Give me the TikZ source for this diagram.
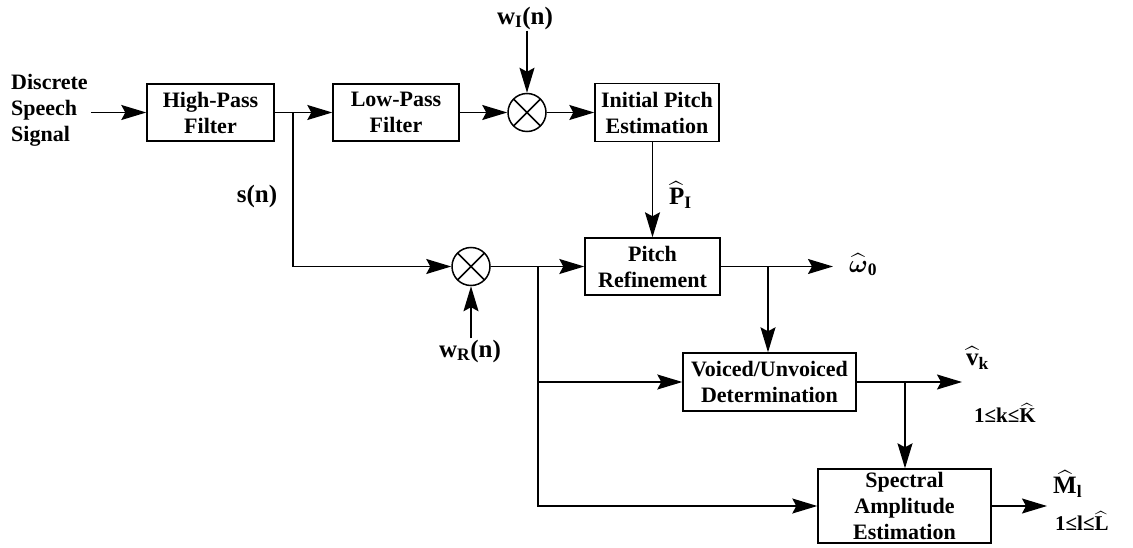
\documentclass[tikz,border=0pt]{standalone}
\usepackage{amsmath}
\usepackage{fontspec}
\setmainfont{Liberation Serif}
\usetikzlibrary{arrows.meta,positioning}

\begin{document}
\begin{tikzpicture}[x=1pt,y=-1pt,
  font=\fontsize{22}{26}\selectfont\bfseries,
  blk/.style={draw, line width=1.4pt, align=center, inner sep=2pt},
  mult/.style={circle, draw, line width=1.5pt, minimum size=38pt, inner sep=0pt,
    path picture={\draw[line width=1.5pt]
      (path picture bounding box.south west) -- (path picture bounding box.north east)
      (path picture bounding box.north west) -- (path picture bounding box.south east);}},
  sig/.style={line width=1.4pt, -{Stealth[length=25pt,width=15pt,inset=4pt]}},
  lbl/.style={font=\fontsize{25}{28}\selectfont\bfseries, inner sep=1pt},
  rng/.style={font=\fontsize{21}{24}\selectfont\bfseries, inner sep=1pt}]
\useasboundingbox (0,0) rectangle (1133,548);

% blocks
\node[align=left, anchor=west, inner sep=3pt] (src) at (8,110) {Discrete\\Speech\\Signal};
\node[blk, minimum width=127pt, minimum height=57pt] (hpf) at (210.5,112.5) {High-Pass\\Filter};
\node[blk, minimum width=126pt, minimum height=57pt] (lpf) at (396,112.5) {Low-Pass\\Filter};
\node[mult] (mi) at (527,112.5) {};
\node[blk, minimum width=124pt, minimum height=58pt] (ipe) at (657,112.5) {Initial Pitch\\Estimation};
\node[mult] (mr) at (471,266.5) {};
\node[blk, minimum width=135pt, minimum height=57pt] (pr) at (652.5,266.5) {Pitch\\Refinement};
\node[blk, minimum width=173pt, minimum height=58pt] (vuv) at (769.5,382) {Voiced/Unvoiced\\Determination};
\node[blk, minimum width=173pt, minimum height=74pt] (sae) at (904.5,506) {Spectral\\Amplitude\\Estimation};

% labels
\node[lbl] (wi) at (525,18) {w\textsubscript{I}(n)};
\node[lbl] (wr) at (470,351) {w\textsubscript{R}(n)};
\node[lbl] (sn) at (257,196) {s(n)};
\node[lbl, anchor=west] (pi) at (668,195) {$\widehat{\text{P}}_{\text{I}}$};
\node[lbl, anchor=west] (om) at (848,265) {$\widehat{\boldsymbol\omega}_{\text{0}}$};
\node[lbl, anchor=west] (vk) at (965,358) {$\widehat{\text{v}}_{\text{k}}$};
\node[rng, anchor=west] (kr) at (973,413) {1≤k≤$\widehat{\text{K}}$};
\node[lbl, anchor=west] (ml) at (1052,484) {$\widehat{\text{M}}_{\text{l}}$};
\node[rng, anchor=west] (lr) at (1054,521) {1≤l≤$\widehat{\text{L}}$};

\coordinate (j1) at (293,112.5);
\coordinate (j2) at (768,266.5);
\coordinate (j3) at (905,382);
\coordinate (j4) at (538,266.5);
\coordinate (omend) at (833,266.5);
\coordinate (vkend) at (962,382);
\coordinate (mlend) at (1047,506);

% connectors
\draw[sig] (src.east |- hpf) -- (hpf);
\draw[sig] (hpf) -- (lpf);
\draw[sig] (j1) |- (mr);
\draw[sig] (lpf) -- (mi);
\draw[sig] (mi |- wi.south) -- (mi);
\draw[sig] (mi) -- (ipe);
\draw[sig] (pr.north |- ipe.south) -- (pr.north);
\draw[sig] (mr |- wr.north) -- (mr);
\draw[sig] (mr) -- (pr);
\draw[sig] (pr) -- (omend);
\draw[sig] (j2) -- (j2 |- vuv.north);
\draw[sig] (j4) |- (vuv);
\draw[sig] (j4) |- (sae);
\draw[sig] (vuv) -- (vkend);
\draw[sig] (j3) -- (j3 |- sae.north);
\draw[sig] (sae) -- (mlend);
\end{tikzpicture}
\end{document}
